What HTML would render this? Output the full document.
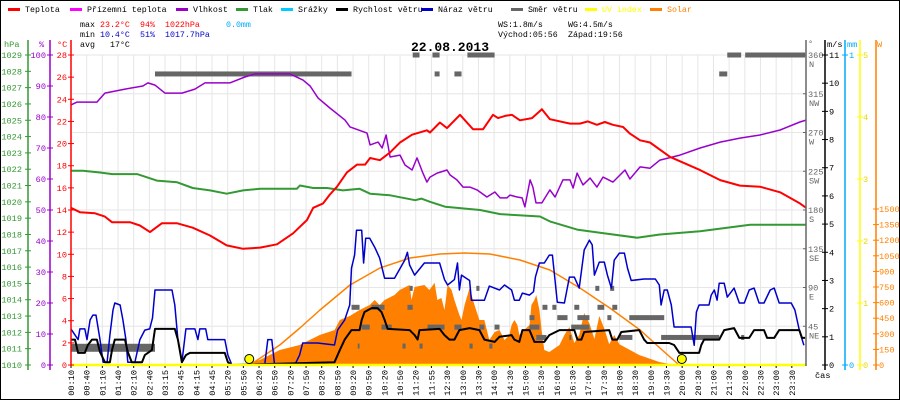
<!DOCTYPE html>
<html><head><meta charset="utf-8"><style>
html,body{margin:0;padding:0;background:#fff;}
svg{display:block;font-family:"Liberation Mono",monospace;}
</style></head><body>
<svg id="chart" width="900" height="400" viewBox="0 0 900 400" xmlns="http://www.w3.org/2000/svg">
<rect x="0.5" y="0.5" width="899" height="399" fill="#fff" stroke="#000"/>
<g id="grid"></g>
<g id="marks"></g>
<g id="axes"></g>
<g id="legend" font-size="8.3"></g>
<g font-size="8.3">
<text x="80" y="27" fill="#000">max</text><text x="100" y="27" fill="#f00">23.2°C</text><text x="140" y="27" fill="#f00">94%</text><text x="165" y="27" fill="#f00">1022hPa</text><text x="226" y="27" fill="#00aaff">0.0mm</text>
<text x="80" y="37" fill="#000">min</text><text x="100" y="37" fill="#0000cc">10.4°C</text><text x="140" y="37" fill="#0000cc">51%</text><text x="165" y="37" fill="#0000cc">1017.7hPa</text>
<text x="80" y="47" fill="#000">avg</text><text x="110" y="47" fill="#000">17°C</text>
<text x="498" y="27">WS:1.8m/s</text><text x="568" y="27">WG:4.5m/s</text>
<text x="498" y="37">Východ:05:56</text><text x="568" y="37">Západ:19:56</text>
</g>
<text x="450" y="51" font-size="13" font-weight="bold" text-anchor="middle">22.08.2013</text>
</svg>
<script>
const NS="http://www.w3.org/2000/svg";
const timeLabels=["00:10","00:40","01:10","01:40","02:10","02:40","03:15","03:45","04:15","04:45","05:20","05:50","06:20","06:50","07:20","07:50","08:20","08:50","09:20","09:50","10:20","10:50","11:20","11:55","12:30","13:00","13:30","14:00","14:30","15:00","15:30","16:00","16:30","17:00","17:30","18:00","18:30","19:00","19:30","20:00","20:30","21:00","21:30","22:00","22:30","23:00","23:30"];
const tempT=[0.16,0.45,0.94,1.26,1.49,2.07,2.39,2.72,3.1,3.6,4.1,4.66,5.2,5.73,6.28,6.83,7.35,7.8,8.0,8.32,8.54,8.77,9.09,9.42,9.68,9.84,10.16,10.49,10.81,11.2,11.68,11.78,12.1,12.33,12.75,13.17,13.5,13.82,13.98,14.21,14.43,14.69,15.08,15.4,15.66,16.31,16.63,16.89,17.18,17.44,17.7,18.03,18.25,18.58,18.9,19.55,20.52,21.17,21.81,22.46,23.11,23.75,23.95];
const tempV=[14.2,13.8,13.7,13.4,12.9,12.9,12.6,12.0,12.8,12.8,12.4,11.7,10.8,10.5,10.6,10.9,11.9,13.1,14.2,14.6,15.4,16.1,17.4,18.1,18.1,18.7,18.5,19.2,20.1,20.8,21.2,21.0,21.9,21.4,22.6,21.3,21.3,22.6,22.3,22.5,22.6,22.1,22.3,23.1,22.2,21.8,21.8,22.0,21.7,21.95,21.7,21.5,20.9,20.3,20.1,18.8,17.6,16.7,16.2,16.1,15.6,14.6,14.2];
const humT=[0.16,0.36,1.0,1.26,1.91,2.49,2.65,2.88,3.2,3.75,4.17,4.5,5.3,5.79,6.12,7.25,7.67,7.9,8.16,8.54,9.03,9.19,9.74,9.84,10.1,10.23,10.36,10.49,10.81,10.97,11.2,11.36,11.55,11.68,11.78,12.01,12.33,12.43,12.65,12.85,13.07,13.3,13.62,13.88,14.05,14.27,14.37,14.6,14.76,14.85,15.02,15.11,15.21,15.4,15.66,15.83,16.08,16.31,16.41,16.54,16.73,16.96,17.18,17.38,17.7,18.09,18.25,18.58,18.9,19.22,19.87,20.52,21.17,21.81,22.46,23.11,23.75,23.95];
const humV=[83.9,84.8,84.8,87.7,89,90,91,90.3,87.7,87.7,89,91,91,92.9,93.9,93.9,91.9,90,86.1,82.9,79,76.8,74.8,71.0,71.9,70.0,74.2,67.1,67.7,64.5,62.9,66.8,61.9,59.0,60.6,61.9,62.9,61.3,59.7,57.4,57.4,56.5,54.2,55.8,53.9,53.9,54.8,54.2,53.9,51.0,59.7,57.4,52.3,52.3,56.5,54.2,59.7,59.7,57.1,61.9,58.1,60.3,57.4,60.6,59.0,62.9,60.0,63.9,63.5,66.1,67.7,70,71.9,73.2,74.2,75.8,78.4,79];
const presT=[0.16,0.55,1.1,1.5,2.3,2.94,3.6,4.1,4.66,5.2,5.73,6.28,7.47,7.57,8.0,8.45,8.96,9.5,9.84,10.49,11.3,11.5,11.78,12.27,13.4,14.05,15.34,15.66,16.54,17.28,18.48,19.22,20.52,22.14,23.95];
const presV=[1021.9,1021.9,1021.8,1021.7,1021.7,1021.3,1021.2,1020.85,1020.7,1020.5,1020.7,1020.8,1020.8,1021.0,1020.85,1020.85,1020.7,1020.8,1020.5,1020.4,1020.1,1020.2,1020.0,1019.7,1019.5,1019.25,1019.1,1018.8,1018.3,1018.1,1017.8,1018.0,1018.2,1018.6,1018.6];
const gustT=[0.16,0.39,0.45,0.61,0.68,0.78,0.87,0.97,1.1,1.2,1.33,1.42,1.52,1.58,1.75,1.84,1.94,2.0,2.23,2.39,2.55,2.71,2.8,2.88,3.43,3.52,3.62,3.75,3.88,4.17,4.27,4.33,4.52,4.59,5.14,5.24,5.37,6.43,6.53,6.66,6.75,7.4,7.56,7.66,8.14,8.69,8.79,9.02,9.18,9.24,9.34,9.4,9.57,9.63,9.7,9.83,9.99,10.15,10.31,10.63,10.96,11.05,11.12,11.28,11.6,12.09,12.25,12.35,12.57,12.67,12.73,12.8,13.06,13.12,13.54,13.7,14.03,14.19,14.42,14.51,14.67,14.77,15.0,15.13,15.19,15.32,15.48,15.64,15.74,15.81,15.9,16.13,16.29,16.45,16.61,16.77,16.94,17.03,17.1,17.26,17.42,17.52,17.65,17.74,17.91,18.07,18.17,18.29,18.71,19.07,19.2,19.26,19.36,19.46,19.59,19.68,20.23,20.33,20.4,20.49,20.81,20.88,20.98,21.07,21.14,21.3,21.4,21.62,21.79,21.95,22.11,22.27,22.43,22.59,22.79,22.92,23.08,23.47,23.59,23.73,23.88];
const gustV=[1.28,0.9,1.28,1.28,0.9,1.6,1.77,1.77,0.9,0.1,0.1,1.06,1.95,2.2,2.13,1.6,0.9,0.1,0.1,0.9,1.24,1.28,1.67,2.66,2.66,2.13,0.9,0.1,1.28,1.28,0.9,1.28,1.28,0.9,0.9,0.35,0,0,0.9,0.9,0,0,0.35,0.78,0.78,0.71,1.24,1.6,2.13,3.44,3.9,4.78,4.78,3.62,4.5,4.5,4.18,3.8,3.08,3.08,3.72,4.0,3.55,3.19,3.62,3.62,3.03,2.84,3.03,3.62,2.66,3.19,3.0,2.3,2.3,2.8,2.66,2.84,2.66,2.3,2.3,2.55,2.48,2.6,3.12,3.62,3.62,3.9,3.9,3.19,2.23,2.2,3.12,3.12,2.73,4.08,4.43,4.26,3.19,3.65,3.65,3.19,2.73,3.72,3.97,3.97,3.44,3.0,3.05,3.05,2.84,2.13,2.66,2.66,2.13,1.35,1.35,0.7,1.88,2.13,2.13,2.48,2.66,2.3,2.9,2.9,2.41,2.73,2.2,2.2,2.66,2.73,2.2,2.2,2.66,2.73,2.2,2.2,1.95,1.24,0.7];
const windT=[0.16,0.29,0.39,0.61,0.71,0.84,1.0,1.1,1.26,1.42,1.49,1.58,1.91,2.0,2.13,2.46,2.55,2.78,2.88,3.52,3.62,3.75,3.88,4.01,5.14,5.24,5.37,8.69,8.86,9.02,9.24,9.5,9.57,9.66,9.89,10.08,10.21,10.31,10.41,11.12,11.28,11.38,11.44,12.09,12.25,12.41,12.57,12.73,13.06,13.38,13.54,13.87,14.03,14.42,14.51,14.67,14.77,15.0,15.16,15.48,15.64,15.97,16.45,16.55,16.68,16.77,17.58,17.68,17.84,17.97,18.55,18.71,18.81,19.52,19.68,19.85,20.49,20.56,20.65,21.14,21.3,21.62,21.79,22.11,22.27,22.59,22.69,22.92,23.08,23.73,23.82,23.92];
const windV=[0.9,0.9,0.43,0.43,0.71,0.9,0.9,0.46,0.1,0.1,0.53,0.9,0.9,0.46,0.1,0.1,0.35,0.53,1.28,1.28,0.9,0.1,0.35,0.43,0.43,0.1,0,0.1,0.53,0.9,1.24,1.24,1.6,1.88,2.02,2.02,1.88,1.6,1.28,1.24,1.06,0.9,1.24,1.28,1.06,0.9,0.9,1.24,1.31,1.24,0.9,0.82,1.0,1.06,0.9,0.82,1.24,1.24,0.82,0.82,1.06,1.24,1.24,0.9,0.9,1.17,1.24,0.9,0.9,1.17,1.24,0.9,0.78,0.78,0.71,0.43,0.43,0.71,0.9,0.9,1.24,1.31,0.96,0.96,1.24,1.24,0.96,0.96,1.24,1.24,0.96,0.96];
const solarT=[5.79,6.27,6.92,7.56,8.21,8.69,8.86,9.18,9.5,9.83,9.99,10.15,10.31,10.63,10.8,11.12,11.18,11.28,11.6,11.76,11.93,12.02,12.15,12.25,12.35,12.48,12.57,12.73,12.8,12.9,13.06,13.22,13.38,13.54,13.7,13.87,14.03,14.19,14.35,14.42,14.51,14.61,14.67,14.83,15.0,15.06,15.16,15.22,15.32,15.39,15.48,15.64,15.97,16.13,16.29,16.45,16.61,16.77,16.94,17.1,17.26,17.42,17.58,17.74,17.91,18.55,19.2,19.68];
const solarV=[0,48,144,192,288,336,433,471,529,577,625,577,625,673,721,769,625,750,769,721,790,625,644,529,769,721,625,481,433,577,740,577,433,433,240,317,337,240,288,385,433,385,288,337,385,577,625,673,529,337,144,125,192,288,365,212,288,500,400,250,471,350,200,288,200,96,29,0];
const theoT=[5.95,6.92,7.57,8.22,9.19,10.16,11.13,12.1,12.9,13.72,14.69,15.66,16.63,17.6,18.58,19.22,19.84];
const theoV=[0,192,356,529,769,933,1029,1067,1077,1067,1010,913,740,548,337,163,0];
const dirDeg=[20,338,360,360,360,360,360,338,338,338,44,44,44,44,44,44,44,44,67,67,67,67,67,67,67,67,89,89,89,89,22,22,22,22,22,55,55,55,55,55,32,32,32,32,32];
const dirStart=[0.16,2.88,11.22,11.86,12.99,21.4,21.98,11.93,12.57,21.14,9.57,10.21,11.7,12.57,13.38,13.87,15.0,16.35,9.24,9.89,11.05,15.42,15.74,16.45,17.2,17.68,11.12,13.28,17.13,17.61,9.44,10.89,11.44,13.06,13.7,15.0,15.9,16.55,17.52,18.23,15.22,16.29,17.91,19.26,21.85];
const dirEnd=[2.88,9.24,11.44,12.09,13.87,21.85,23.92,12.09,12.8,21.4,9.83,10.54,12.25,12.8,13.54,14.03,15.32,16.94,9.5,10.31,11.22,15.58,15.87,16.61,17.42,17.84,11.22,13.38,17.26,17.74,9.5,10.99,11.54,13.16,13.8,15.16,16.23,16.94,17.65,19.36,15.55,16.35,18.33,21.14,21.95];
const sunT=[5.93,19.93];

const Y0=365,Y1=55;
const xT=h=>66+h*30.9;
const yC=v=>Y0-(v/28)*(Y0-Y1);
const yP=v=>Y0-(v/100)*(Y0-Y1);
const yH=v=>Y0-((v-1010)/19)*(Y0-Y1);
const yM=v=>Y0-(v/11)*(Y0-Y1);
const yD=v=>Y0-(v/360)*(Y0-Y1);
const yW=v=>Y0-v*0.104;
const yU=v=>Y0-(v/5)*(Y0-Y1);
function el(tag,attrs,parent,txt){const e=document.createElementNS(NS,tag);for(const k in attrs)e.setAttribute(k,attrs[k]);if(txt!==undefined)e.textContent=txt;parent.appendChild(e);return e;}
const grid=document.getElementById('grid'),marks=document.getElementById('marks'),axes=document.getElementById('axes'),legend=document.getElementById('legend');
timeLabels.forEach((l,i)=>{const x=71+i*15.67;
 const g=el('line',{x1:x,x2:x,y1:Y1,y2:Y0,stroke:'#e6e6e6'},grid);
 
 const t=el('text',{x:0,y:0,transform:`translate(${x+3},370) rotate(-90)`,'text-anchor':'end','font-size':'8.6',fill:'#000'},axes,l);
 
 el('rect',{x:x-0.5,y:366,width:1,height:2,fill:'#000'},axes);
});
for(let d=45;d<=360;d+=45){const g=el('line',{x1:71,x2:806,y1:yD(d),y2:yD(d),stroke:'#e6e6e6'},grid);
 }
function path(T,V,yf,color,w,name){let d=T.map((t,i)=>(i?'L':'M')+xT(t).toFixed(1)+','+yf(V[i]).toFixed(1)).join('');
 const p=el('path',{d:d,fill:'none',stroke:color,'stroke-width':w,'stroke-linejoin':'round'},marks);
 return p;}
{let d='M'+xT(solarT[0])+','+Y0+solarT.map((t,i)=>'L'+xT(t).toFixed(1)+','+yW(solarV[i]).toFixed(1)).join('')+'L'+xT(solarT[solarT.length-1])+','+Y0+'Z';
 const p=el('path',{d:d,fill:'#ff8000'},marks);}
path(theoT,theoV,yW,'#ff8000',1.5,'solar-theoretical-line');
dirDeg.forEach((dg,i)=>{const big=i===0;const r=el('rect',{x:xT(dirStart[i]),y:yD(dg)-(big?4:2.5),width:xT(dirEnd[i])-xT(dirStart[i]),height:big?8:5,fill:'#666'},marks);
 });
path(presT,presV,yH,'#339933',2,'pressure-line');
path(humT,humV,yP,'#9900cc',1.5,'humidity-line');
path(tempT,tempV,yC,'#ff0000',2,'temperature-line');
path(gustT,gustV,yM,'#0000cc',1.5,'gust-line');
path(windT,windV,yM,'#000000',2,'wind-speed-line');
{const l=el('line',{x1:71,x2:806,y1:Y0,y2:Y0,stroke:'#ffff00','stroke-width':2.5},marks);}
sunT.forEach(t=>{const c=el('circle',{cx:xT(t),cy:359,r:4.5,fill:'#ffff00',stroke:'#000','stroke-width':1},marks);
 });
function vaxis(x,color,name,y1,y2){const l=el('line',{x1:x,x2:x,y1:y1,y2:y2,stroke:color,'stroke-width':1.5},axes);}
vaxis(28,'#339933','pressure-axis',40,370);vaxis(50,'#9900cc','humidity-axis',40,370);vaxis(71,'#ff0000','temperature-axis',40,366);
vaxis(806,'#666','direction-axis',40,366);vaxis(825,'#000','wind-axis',40,370);vaxis(845,'#00aaff','rain-axis',40,370);vaxis(860,'#ffff00','uv-axis',40,370);vaxis(876,'#ff8000','solar-axis',40,370);
function lab(x,y,s,color,anchor,name){const t=el('text',{x:x,y:y,fill:color,'font-size':'8.6','text-anchor':anchor},axes,s);}
for(let v=1010;v<=1029;v++){const y=yH(v);el('line',{x1:25,x2:31,y1:y,y2:y,stroke:'#339933'},axes);lab(22,y+3,String(v),'#339933','end','pressure-tick-label');}
for(let v=0;v<=100;v+=10){const y=yP(v);el('line',{x1:47,x2:53,y1:y,y2:y,stroke:'#9900cc'},axes);lab(46,y+3,String(v),'#9900cc','end','humidity-tick-label');}
for(let v=0;v<=28;v+=2){const y=yC(v);el('line',{x1:68,x2:74,y1:y,y2:y,stroke:'#f00'},axes);lab(67,y+3,String(v),'#f00','end','temperature-tick-label');}
const dirNames=['N','NE','E','SE','S','SW','W','NW','N'];
for(let d=45;d<=360;d+=45){const y=yD(d);el('line',{x1:803,x2:806,y1:y,y2:y,stroke:'#666'},axes);lab(808,y+3,String(d),'#666','start','direction-tick-label');lab(809,y+12,dirNames[d/45],'#666','start','direction-name-label');}
for(let v=0;v<=11;v++){const y=yM(v);el('line',{x1:822,x2:828,y1:y,y2:y,stroke:'#000'},axes);lab(829,y+3,String(v),'#000','start','wind-tick-label');}
[[0,Y0],[1,Y1]].forEach(a=>{el('line',{x1:842,x2:848,y1:a[1],y2:a[1],stroke:'#00aaff'},axes);lab(849,a[1]+3,String(a[0]),'#00aaff','start','rain-tick-label');});
for(let v=0;v<=5;v++){const y=yU(v);el('line',{x1:857,x2:863,y1:y,y2:y,stroke:'#ffff00'},axes);lab(863,y+3,String(v),'#e6d800','start','uv-tick-label');}
for(let v=0;v<=1500;v+=150){const y=yW(v);el('line',{x1:873,x2:879,y1:y,y2:y,stroke:'#ff8000'},axes);lab(879,y+3,String(v),'#ff8000','start','solar-tick-label');}
lab(4,47,'hPa','#339933','start','pressure-unit');lab(39,47,'%','#9900cc','start','humidity-unit');lab(57,47,'°C','#f00','start','temperature-unit');
lab(808,46,'°','#666','start','direction-unit');lab(827,47,'m/s','#000','start','wind-unit');lab(847,47,'mm','#00aaff','start','rain-unit');lab(877,47,'W','#ff8000','start','solar-unit');
lab(815,378,'čas','#000','start','time-axis-title');
const legNames=['Teplota','Přízemní teplota','Vlhkost','Tlak','Srážky','Rychlost větru','Náraz větru','Směr větru','UV index','Solar'];
const legColors=['#ff0000','#ff00ff','#9900cc','#339933','#00ccff','#000000','#0000cc','#666666','#ffff00','#ff8000'];
const legX=[8,70,176,236,281,336,421,511,585,650];
legNames.forEach((n,i)=>{const g=el('g',{},legend);
 
 el('rect',{x:legX[i],y:8,width:12,height:3,fill:legColors[i]},g);
 el('text',{x:legX[i]+17,y:12,fill:(i===8||i===9)?legColors[i]:'#000'},g,n);});
</script>
</body></html>
